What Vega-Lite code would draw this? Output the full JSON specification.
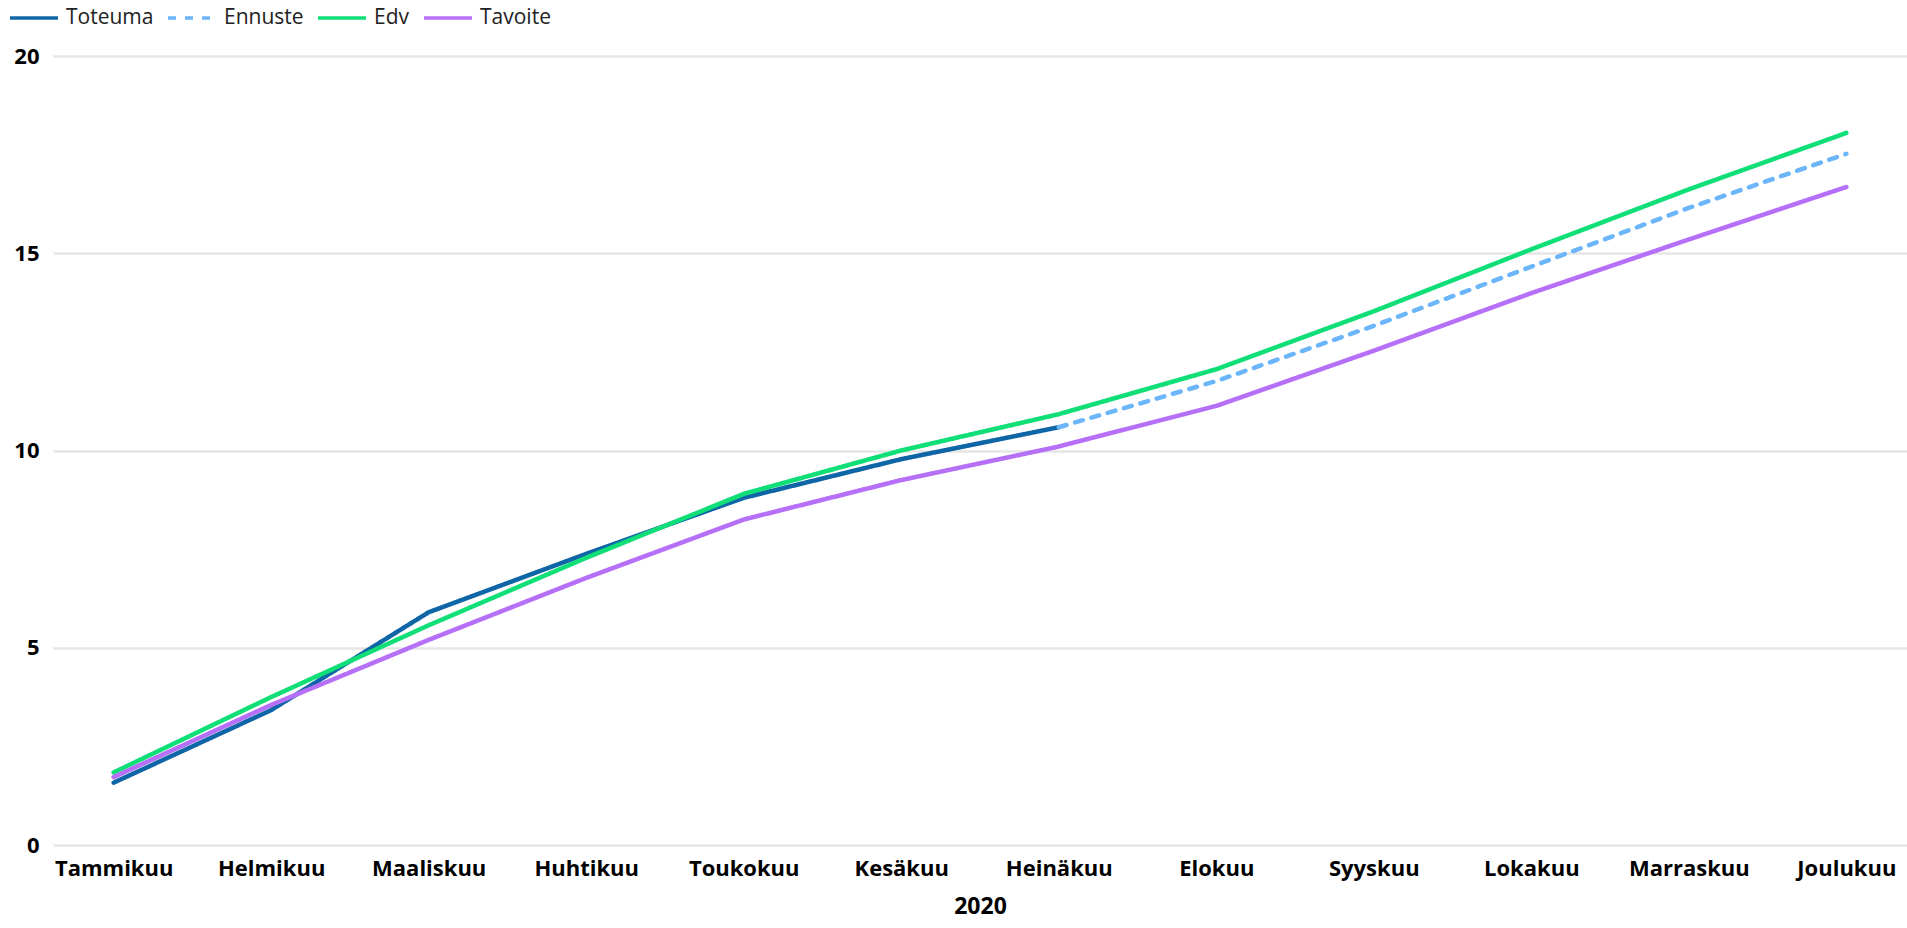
{
  "$schema": "https://vega.github.io/schema/vega-lite/v6.json",
  "width": 1907,
  "height": 928,
  "autosize": {"type": "fit", "contains": "padding"},
  "padding": {"left": 13, "top": 45, "right": 0, "bottom": 10},
  "background": "white",
  "config": {
    "view": {"stroke": null},
    "font": "Open Sans"
  },
  "data": {
    "values": [
      {"kk": "Tammikuu", "sarja": "Toteuma", "arvo": 1.58},
      {"kk": "Helmikuu", "sarja": "Toteuma", "arvo": 3.42},
      {"kk": "Maaliskuu", "sarja": "Toteuma", "arvo": 5.9},
      {"kk": "Huhtikuu", "sarja": "Toteuma", "arvo": 7.38},
      {"kk": "Toukokuu", "sarja": "Toteuma", "arvo": 8.8},
      {"kk": "Kesäkuu", "sarja": "Toteuma", "arvo": 9.78},
      {"kk": "Heinäkuu", "sarja": "Toteuma", "arvo": 10.59},
      {"kk": "Heinäkuu", "sarja": "Ennuste", "arvo": 10.59},
      {"kk": "Elokuu", "sarja": "Ennuste", "arvo": 11.76},
      {"kk": "Syyskuu", "sarja": "Ennuste", "arvo": 13.16},
      {"kk": "Lokakuu", "sarja": "Ennuste", "arvo": 14.66},
      {"kk": "Marraskuu", "sarja": "Ennuste", "arvo": 16.15},
      {"kk": "Joulukuu", "sarja": "Ennuste", "arvo": 17.52},
      {"kk": "Tammikuu", "sarja": "Edv", "arvo": 1.84},
      {"kk": "Helmikuu", "sarja": "Edv", "arvo": 3.75},
      {"kk": "Maaliskuu", "sarja": "Edv", "arvo": 5.57},
      {"kk": "Huhtikuu", "sarja": "Edv", "arvo": 7.28},
      {"kk": "Toukokuu", "sarja": "Edv", "arvo": 8.9},
      {"kk": "Kesäkuu", "sarja": "Edv", "arvo": 10.0},
      {"kk": "Heinäkuu", "sarja": "Edv", "arvo": 10.92},
      {"kk": "Elokuu", "sarja": "Edv", "arvo": 12.06},
      {"kk": "Syyskuu", "sarja": "Edv", "arvo": 13.53},
      {"kk": "Lokakuu", "sarja": "Edv", "arvo": 15.1},
      {"kk": "Marraskuu", "sarja": "Edv", "arvo": 16.62},
      {"kk": "Joulukuu", "sarja": "Edv", "arvo": 18.05},
      {"kk": "Tammikuu", "sarja": "Tavoite", "arvo": 1.72},
      {"kk": "Helmikuu", "sarja": "Tavoite", "arvo": 3.55},
      {"kk": "Maaliskuu", "sarja": "Tavoite", "arvo": 5.2},
      {"kk": "Huhtikuu", "sarja": "Tavoite", "arvo": 6.77},
      {"kk": "Toukokuu", "sarja": "Tavoite", "arvo": 8.25},
      {"kk": "Kesäkuu", "sarja": "Tavoite", "arvo": 9.25},
      {"kk": "Heinäkuu", "sarja": "Tavoite", "arvo": 10.1},
      {"kk": "Elokuu", "sarja": "Tavoite", "arvo": 11.13},
      {"kk": "Syyskuu", "sarja": "Tavoite", "arvo": 12.53},
      {"kk": "Lokakuu", "sarja": "Tavoite", "arvo": 13.99},
      {"kk": "Marraskuu", "sarja": "Tavoite", "arvo": 15.35},
      {"kk": "Joulukuu", "sarja": "Tavoite", "arvo": 16.68}
    ]
  },
  "mark": {"type": "line", "strokeWidth": 4.5, "strokeCap": "round", "strokeJoin": "round"},
  "encoding": {
    "x": {
      "field": "kk",
      "type": "ordinal",
      "sort": ["Tammikuu", "Helmikuu", "Maaliskuu", "Huhtikuu", "Toukokuu", "Kesäkuu", "Heinäkuu", "Elokuu", "Syyskuu", "Lokakuu", "Marraskuu", "Joulukuu"],
      "scale": {"type": "point", "padding": 0.385},
      "title": "2020",
      "axis": {
        "labelAngle": 0,
        "labelFont": "Open Sans",
        "labelFontWeight": "bold",
        "labelFontSize": 22,
        "labelColor": "#000000",
        "labelPadding": 13,
        "ticks": false,
        "domain": false,
        "grid": false,
        "titleFont": "Open Sans",
        "titleFontWeight": "bold",
        "titleFontSize": 23,
        "titleColor": "#000000",
        "titlePadding": 16
      }
    },
    "y": {
      "field": "arvo",
      "type": "quantitative",
      "scale": {"domain": [0, 20], "nice": false},
      "title": null,
      "axis": {
        "values": [0, 5, 10, 15, 20],
        "labelFont": "Open Sans",
        "labelFontWeight": "bold",
        "labelFontSize": 22,
        "labelColor": "#000000",
        "labelPadding": 14,
        "ticks": false,
        "domain": false,
        "grid": true,
        "gridColor": "#e6e6e6",
        "gridWidth": 2.5
      }
    },
    "color": {
      "field": "sarja",
      "type": "nominal",
      "title": null,
      "scale": {
        "domain": ["Toteuma", "Ennuste", "Edv", "Tavoite"],
        "range": ["#0f66a6", "#6bb5fa", "#10df78", "#b670f7"]
      },
      "legend": {
        "orient": "none",
        "legendX": -45,
        "legendY": -64,
        "direction": "horizontal",
        "symbolType": "stroke",
        "symbolSize": 2300,
        "symbolStrokeWidth": 3.5,
        "labelFont": "Open Sans",
        "labelFontSize": 21,
        "labelColor": "#222222",
        "labelOffset": 6,
        "columnPadding": 7
      }
    },
    "strokeDash": {
      "field": "sarja",
      "type": "nominal",
      "scale": {
        "domain": ["Toteuma", "Ennuste", "Edv", "Tavoite"],
        "range": [[1, 0], [8, 9], [1, 0], [1, 0]]
      },
      "legend": null
    }
  }
}
